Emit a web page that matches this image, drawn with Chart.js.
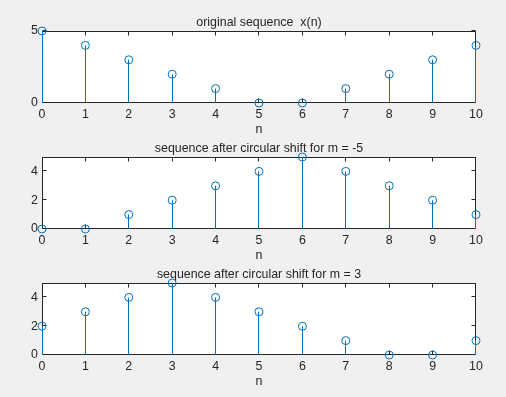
<!DOCTYPE html>
<html><head><meta charset="utf-8">
<script src="https://cdn.jsdelivr.net/npm/chart.js@4"></script>
<style>
html,body{margin:0;padding:0;background:#f0f0f0;width:506px;height:397px;overflow:hidden;position:relative}
canvas{position:absolute;left:0}
</style></head><body>
<canvas id="c0" width="506" height="140" style="top:0px"></canvas>
<canvas id="c1" width="506" height="140" style="top:126px"></canvas>
<canvas id="c2" width="506" height="140" style="top:252px"></canvas>
<script>
const n = [0,1,2,3,4,5,6,7,8,9,10];
const xOriginal = [5,4,3,2,1,0,0,1,2,3,4];
const xShiftMinus5 = [0,0,1,2,3,4,5,4,3,2,1];
const xShiftPlus3 = [2,3,4,5,4,3,2,1,0,0,1];
const titles = ['original sequence  x(n)','sequence after circular shift for m = -5','sequence after circular shift for m = 3'];
const xTickValues = [0,1,2,3,4,5,6,7,8,9,10];
const yTicksTop = [0,5];
const yTicksOther = [0,2,4];
const xLabel = 'n';

const BLUE = '#0072BD';
const INK = '#262626';
const FONT = "'Liberation Sans', Arial, Helvetica, sans-serif";
const FS = 12.4;

const frame = {
  id: 'frame',
  beforeDraw(c) {
    const a = c.chartArea, ctx = c.ctx;
    ctx.save();
    ctx.fillStyle = '#fff';
    ctx.fillRect(a.left, a.top, a.right - a.left, a.bottom - a.top);
    ctx.restore();
  },
  beforeDatasetsDraw(c) {
    const a = c.chartArea, ctx = c.ctx, xs = c.scales.x, ys = c.scales.y;
    ctx.save();
    ctx.strokeStyle = INK;
    ctx.lineWidth = 1;
    const L = Math.round(a.left) + 0.5, R = Math.round(a.right) - 0.5;
    const T = Math.round(a.top) + 0.5, B = Math.round(a.bottom) - 0.5;
    ctx.strokeRect(L, T, R - L, B - T);
    const tl = 4;
    ctx.beginPath();
    xs.ticks.forEach(t => {
      const p = Math.min(Math.floor(xs.getPixelForValue(t.value)), R - 0.5) + 0.5;
      ctx.moveTo(p, B); ctx.lineTo(p, B - tl);
      ctx.moveTo(p, T); ctx.lineTo(p, T + tl);
    });
    ys.ticks.forEach(t => {
      const p = Math.round(ys.getPixelForValue(t.value)) - 0.5;
      ctx.moveTo(L, p); ctx.lineTo(L + tl, p);
      ctx.moveTo(R, p); ctx.lineTo(R - tl, p);
    });
    ctx.stroke();
    ctx.restore();
    // snap 1px stems to whole pixels so they stay crisp
    c.data.datasets.forEach((ds, i) => {
      const meta = c.getDatasetMeta(i);
      if (meta.type === 'bar') meta.data.forEach(el => { el.x = Math.floor(el.x) + 0.5; });
    });
  }
};

function makeChart(id, values, title, yTicks) {
  const pts = n.map((x, i) => ({x: x, y: values[i]}));
  return new Chart(document.getElementById(id), {
    type: 'bar',
    data: {
      datasets: [
        {type: 'bar', data: pts, backgroundColor: BLUE, borderWidth: 0, barThickness: 1, inflateAmount: 0, order: 2},
        {type: 'scatter', data: pts, pointStyle: 'circle', pointRadius: 4, pointBorderWidth: 1,
         borderColor: BLUE, backgroundColor: 'rgba(0,0,0,0)', clip: false, order: 1}
      ]
    },
    options: {
      responsive: false, animation: false,
      layout: {padding: {left: 12, right: 0, top: 0, bottom: 0}},
      plugins: {
        legend: {display: false}, tooltip: {enabled: false},
        title: {display: true, text: title, color: INK, font: {family: FONT, size: FS, weight: 'normal'}, padding: {top: 15.1, bottom: 31 - 15.1 - FS * 1.2}}
      },
      scales: {
        x: {
          type: 'linear', min: 0, max: 10, offset: false,
          grid: {display: false, drawTicks: false}, border: {display: false},
          afterBuildTicks: s => { s.ticks = xTickValues.map(v => ({value: v})); },
          afterFit: s => { s.height = 37; },
          ticks: {color: INK, padding: 4, font: {family: FONT, size: FS}, maxRotation: 0},
          title: {display: true, text: xLabel, color: INK, font: {family: FONT, size: FS}, padding: {top: 0, bottom: 2.5}}
        },
        y: {
          type: 'linear', min: 0, max: 5,
          grid: {display: false, drawTicks: false}, border: {display: false},
          afterBuildTicks: s => { s.ticks = yTicks.map(v => ({value: v})); },
          afterFit: s => { s.width = 30; },
          ticks: {color: INK, padding: 4, font: {family: FONT, size: FS}}
        },
        y2: {
          type: 'linear', position: 'right', min: 0, max: 5,
          grid: {display: false, drawTicks: false}, border: {display: false},
          ticks: {display: false},
          afterFit: s => { s.width = 30.01; }
        }
      }
    },
    plugins: [frame]
  });
}

makeChart('c0', xOriginal, titles[0], yTicksTop);
makeChart('c1', xShiftMinus5, titles[1], yTicksOther);
makeChart('c2', xShiftPlus3, titles[2], yTicksOther);
</script>
</body></html>
